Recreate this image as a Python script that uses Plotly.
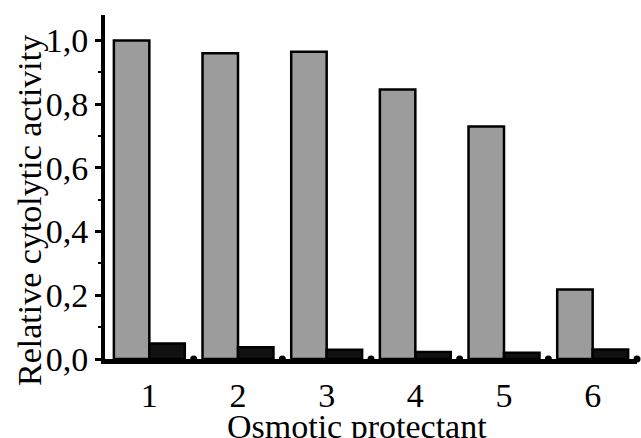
import plotly.graph_objects as go

categories = [1, 2, 3, 4, 5, 6]
gray_values = [1.0, 0.96, 0.965, 0.846, 0.73, 0.218]
black_values = [0.049, 0.037, 0.029, 0.022, 0.02, 0.03]
y_tick_vals = [0.0, 0.2, 0.4, 0.6, 0.8, 1.0]
y_tick_text = ["0,0", "0,2", "0,4", "0,6", "0,8", "1,0"]
x_title = "Osmotic protectant"
y_title = "Relative cytolytic activity"

FONT = "Liberation Serif, Times New Roman, serif"
FS = 34

fig = go.Figure()
fig.add_trace(go.Bar(x=categories, y=gray_values, marker=dict(color="#9c9c9c", line=dict(color="black", width=2.5)), showlegend=False))
fig.add_trace(go.Bar(x=categories, y=black_values, marker=dict(color="#111111", line=dict(color="black", width=2.5)), showlegend=False))

boundaries = [c + 0.5 for c in categories]
fig.add_trace(go.Scatter(x=boundaries, y=[0] * len(boundaries), mode="markers",
                         marker=dict(color="black", size=7), cliponaxis=False, showlegend=False, hoverinfo="skip"))

fig.update_layout(
    width=641, height=438,
    margin=dict(l=105, r=4, t=15, b=79, autoexpand=False),
    paper_bgcolor="white", plot_bgcolor="white",
    barmode="group", bargap=0.2, bargroupgap=0,
    font=dict(family=FONT, size=FS, color="black"),
)
fig.update_xaxes(
    range=[0.5, 6.5], tickmode="array", tickvals=categories, ticktext=[str(c) for c in categories],
    showline=True, linecolor="black", linewidth=5, ticks="", showgrid=False, zeroline=False,
    tickfont=dict(family=FONT, size=FS, color="black"), ticklabelstandoff=2, automargin=False,
)
fig.update_yaxes(
    range=[0, 1.08], tickmode="array", tickvals=y_tick_vals, ticktext=y_tick_text,
    showline=True, linecolor="black", linewidth=4, ticks="outside", ticklen=6, tickwidth=3, tickcolor="black",
    showgrid=False, zeroline=False, automargin=False,
    minor=dict(tickmode="linear", tick0=0.1, dtick=0.2, ticks="outside", ticklen=3, tickwidth=2, tickcolor="black"),
    tickfont=dict(family=FONT, size=FS, color="black"),
)
fig.add_annotation(text=y_title, xref="paper", yref="paper", x=-0.143, y=0.433, textangle=-90,
                   showarrow=False, xanchor="center", yanchor="middle", font=dict(family=FONT, size=FS, color="black"))
fig.add_annotation(text=x_title, xref="paper", yref="paper", x=0.474, y=-0.195,
                   showarrow=False, xanchor="center", yanchor="middle", font=dict(family=FONT, size=FS, color="black"))

fig.write_html("out.html", config={"displayModeBar": False},
               post_script="document.body.style.margin='0';document.body.style.overflow='hidden';")
